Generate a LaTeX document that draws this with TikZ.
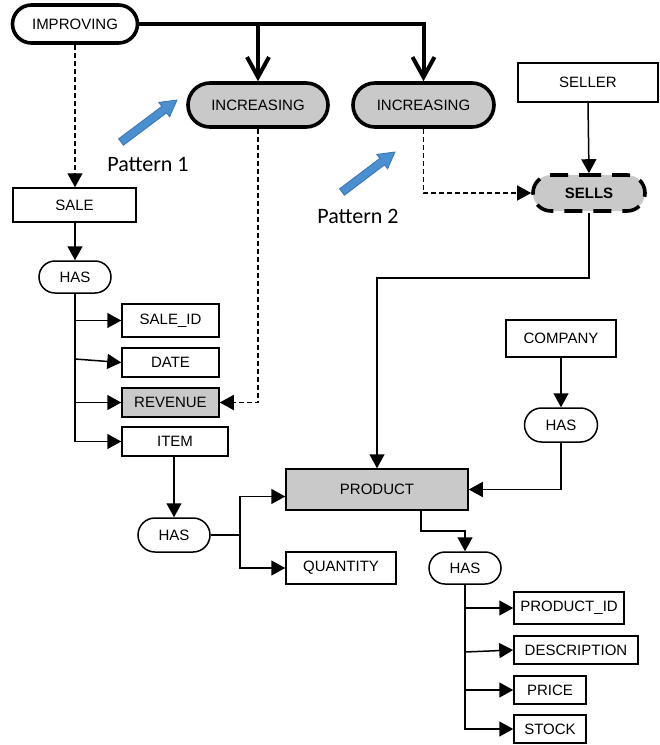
\documentclass[tikz,border=0pt]{standalone}
\usepackage{fontspec}
\setmainfont{Liberation Sans}
\newfontfamily\patfont{Carlito}
\usetikzlibrary{arrows.meta,shapes.misc}
\definecolor{fillgray}{RGB}{201,201,201}
\definecolor{bluefill}{RGB}{74,144,208}
\definecolor{blueedge}{RGB}{55,115,175}
\begin{document}
\begin{tikzpicture}[x=1pt,y=-1pt,
  every node/.style={font=\fontsize{15}{17}\selectfont, inner sep=0pt},
  boxnode/.style={draw, rectangle, line width=1.5pt},
  pill/.style={draw, rounded rectangle, line width=1.5pt},
  thickpill/.style={draw, rounded rectangle, line width=3.6pt},
  grayfill/.style={fill=fillgray},
  arr/.style={line width=1.5pt, -{Triangle[length=14pt,width=15pt]}},
  plainline/.style={line width=1.5pt},
  dasharr/.style={line width=1.4pt, dash pattern=on 5pt off 3pt, -{Triangle[length=14pt,width=15pt]}},
  thickarr/.style={line width=4pt, -{Straight Barb[length=20pt,width=22pt]}},
  bluearrow/.style={fill=bluefill, draw=blueedge, line width=0.8pt},
  pattext/.style={font=\patfont\fontsize{22}{24}\selectfont}
]
\useasboundingbox (0,0) rectangle (660,745);
% nodes
\node[thickpill, minimum width=125pt, minimum height=38pt] (imp) at (75,24) {IMPROVING};
\node[thickpill, grayfill, minimum width=140pt, minimum height=44pt] (inc1) at (258,105) {INCREASING};
\node[thickpill, grayfill, minimum width=141pt, minimum height=44pt] (inc2) at (423.5,105) {INCREASING};
\node[boxnode, minimum width=140pt, minimum height=39pt] (seller) at (588,82.5) {SELLER};
\node[draw, rounded rectangle, grayfill, line width=3.6pt, dash pattern=on 18pt off 11pt, dash phase=6pt, minimum width=112pt, minimum height=36pt, font=\fontsize{15}{17}\selectfont\bfseries] (sells) at (589,193) {SELLS};
\node[boxnode, minimum width=123pt, minimum height=34pt] (sale) at (74.5,205) {SALE};
\node[pill, minimum width=72pt, minimum height=32pt] (has1) at (75,277) {HAS};
\node[boxnode, minimum width=97pt, minimum height=33pt] (saleid) at (170.5,320.5) {SALE\_ID};
\node[boxnode, minimum width=97pt, minimum height=29pt] (date) at (170.5,362.5) {DATE};
\node[boxnode, grayfill, minimum width=97pt, minimum height=29pt] (rev) at (170.5,402.5) {REVENUE};
\node[boxnode, minimum width=106pt, minimum height=29pt] (item) at (175,441.5) {ITEM};
\node[pill, minimum width=72pt, minimum height=34pt] (has2) at (174,535) {HAS};
\node[boxnode, grayfill, minimum width=182pt, minimum height=41pt] (product) at (377,489.5) {PRODUCT};
\node[boxnode, minimum width=110pt, minimum height=32pt] (quantity) at (341,568) {QUANTITY};
\node[boxnode, minimum width=110pt, minimum height=37pt] (company) at (561,338.5) {COMPANY};
\node[pill, minimum width=73pt, minimum height=34pt] (has4) at (561,425) {HAS};
\node[pill, minimum width=72pt, minimum height=32pt] (has3) at (465,568) {HAS};
\node[boxnode, minimum width=110pt, minimum height=32pt] (pid) at (569,608) {PRODUCT\_ID};
\node[boxnode, minimum width=124pt, minimum height=28pt] (desc) at (576,650) {DESCRIPTION};
\node[boxnode, minimum width=72pt, minimum height=28pt] (price) at (550,690) {PRICE};
\node[boxnode, minimum width=72pt, minimum height=28pt] (stock) at (550,729) {STOCK};
\node[pattext] (pat1) at (148,164) {Pattern 1};
\node[pattext] (pat2) at (358,216) {Pattern 2};
% blue arrows
\draw[bluearrow] (123.4,145.2) -- (166.6,112.8) -- (169.6,116.8) -- (177,100) -- (158.8,102.4) -- (161.8,106.4) -- (118.6,138.8) -- cycle;
\draw[bluearrow] (344.4,195.2) -- (384.6,164.8) -- (387.6,168.8) -- (395,152) -- (376.8,154.4) -- (379.8,158.4) -- (339.6,188.8) -- cycle;
% thick connectors
\draw[thickarr] (imp.east) -| (inc2.north);
\draw[thickarr] (imp.east -| inc1.north) -- (inc1.north);
% dashed connectors
\draw[dasharr] (imp.south) -- (imp.south |- sale.north);
\draw[dasharr] (inc1.south) |- (rev.east);
\draw[dasharr] (inc2.south) |- (sells.west);
% solid connectors
\draw[arr] (seller.south) -- (sells.north);
\draw[arr] (sells.south) -- ++(0,65) -| (product.north);
\draw[arr] (sale.south -| has1.north) -- (has1.north);
\draw[arr] (has1.south) |- (item.west);
\draw[arr] (has1.south |- saleid.west) -- (saleid.west);
\coordinate (dj) at (75,359);
\draw[arr] (dj) -- (date.west);
\draw[arr] (has1.south |- rev.west) -- (rev.west);
\draw[arr] (has2.north |- item.south) -- (has2.north);
\draw[plainline] (has2.east) -- ++(29,0) coordinate (j2);
\draw[arr] (j2) |- ([yshift=-7pt]product.west);
\draw[arr] (j2) |- (quantity.west);
\draw[arr] (company.south) -- (has4.north);
\draw[arr] (has4.south) |- (product.east);
\draw[arr] ([xshift=44pt]product.south) -- ++(0,20) -| (has3.north);
\draw[arr] (has3.south) |- (stock.west);
\draw[arr] (has3.south |- pid.west) -- (pid.west);
\coordinate (dj3) at (465,652);
\draw[arr] (dj3) -- (desc.west);
\draw[arr] (has3.south |- price.west) -- (price.west);
\end{tikzpicture}
\end{document}
